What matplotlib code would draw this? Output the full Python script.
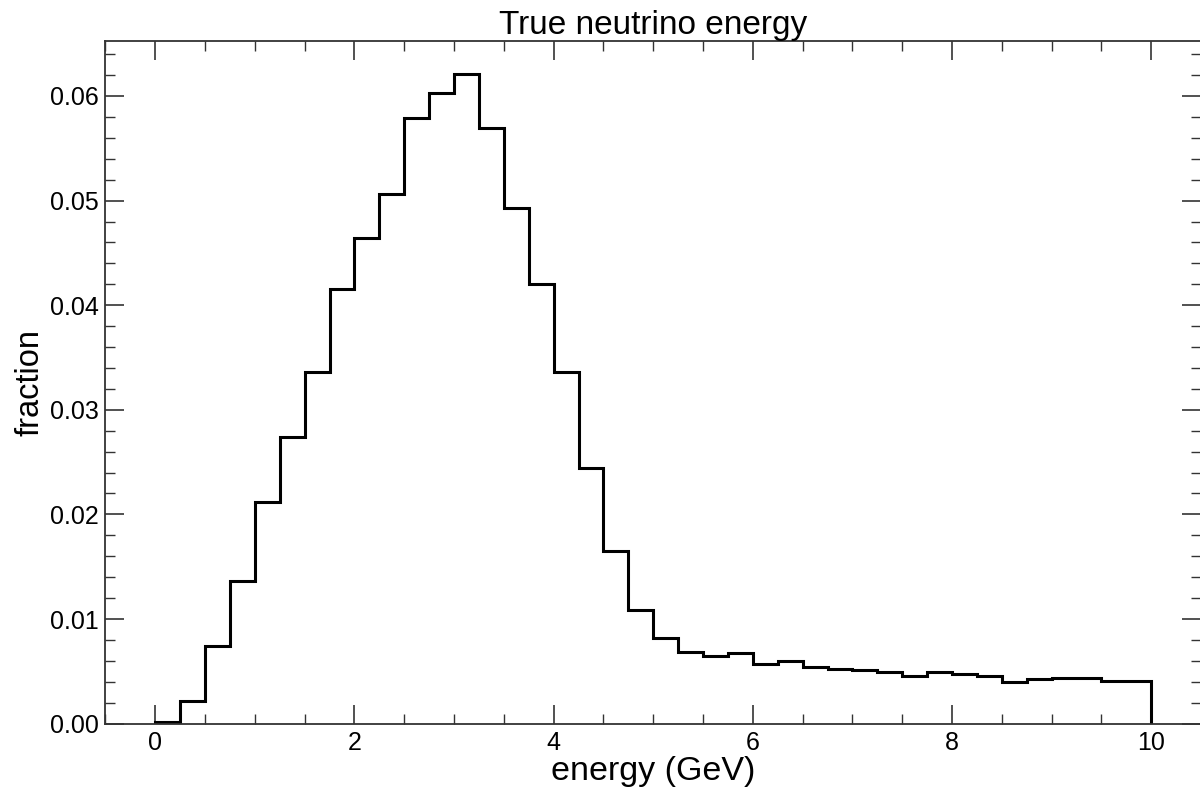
import numpy as np
from matplotlib import pyplot as plt
from matplotlib.ticker import MultipleLocator

plt.rcParams['font.family'] = ['Liberation Sans', 'DejaVu Sans']

# histogram: 40 bins of 0.25 GeV from 0 to 10
bin_edges = np.linspace(0.0, 10.0, 41)
fractions = [0.00014, 0.00212, 0.00744, 0.01360, 0.02114, 0.02738, 0.03362, 0.04159,
             0.04643, 0.05061, 0.05790, 0.06030, 0.06214, 0.05695, 0.04927, 0.04207,
             0.03362, 0.02442, 0.01652, 0.01088, 0.00820, 0.00683, 0.00648, 0.00680,
             0.00566, 0.00600, 0.00540, 0.00521, 0.00514, 0.00495, 0.00451, 0.00489,
             0.00470, 0.00454, 0.00397, 0.00422, 0.00438, 0.00432, 0.00409, 0.00406]

fig = plt.figure(figsize=(12, 7.9), dpi=100)
ax = fig.add_axes([0.0879, 0.084, 0.9130, 0.864])

centers = 0.5 * (bin_edges[:-1] + bin_edges[1:])
ax.hist(centers, bins=bin_edges, weights=fractions, histtype="step",
        color="k", linewidth=2.2)

ax.set_xlim(-0.5, 10.5)
ax.set_ylim(0, max(fractions) * 1.05)

ax.xaxis.set_major_locator(MultipleLocator(2))
ax.xaxis.set_minor_locator(MultipleLocator(0.5))
ax.yaxis.set_major_locator(MultipleLocator(0.01))
ax.yaxis.set_minor_locator(MultipleLocator(0.002))
ax.yaxis.set_major_formatter(plt.FormatStrFormatter("%.2f"))

ax.tick_params(which="both", direction="in", top=True, right=True,
               color="#333333", labelsize=18, pad=5)
ax.tick_params(which="major", length=14, width=1.2)
ax.tick_params(which="minor", length=7, width=1.0)
for s in ax.spines.values():
    s.set_color("#333333")
    s.set_linewidth(1.3)

ax.set_xlabel("energy (GeV)", fontsize=24.5, labelpad=1)
ax.set_ylabel("fraction", fontsize=23.5, labelpad=3)
ax.set_title("True neutrino energy", fontsize=24, pad=3)

fig.savefig("out.png", dpi=100)
